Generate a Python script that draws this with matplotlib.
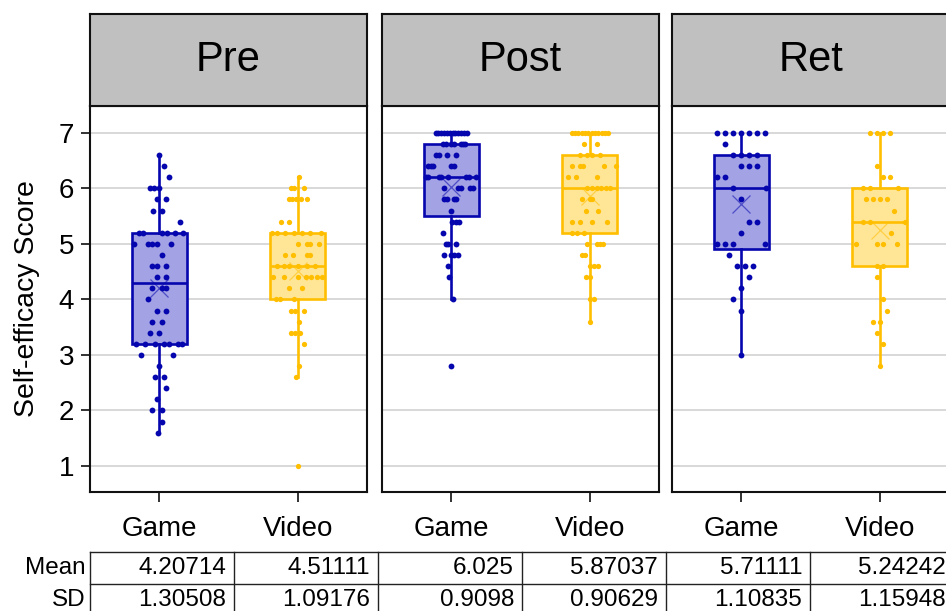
import matplotlib
matplotlib.use("Agg")
import matplotlib.pyplot as plt
import numpy as np

plt.rcParams['font.family'] = ['Liberation Sans', 'DejaVu Sans']

# ---------------- data ----------------
phases = ["Pre", "Post", "Ret"]
conditions = ["Game", "Video"]

# box summaries: [whisker low, Q1, median, Q3, whisker high]
pre_game_box = [1.6, 3.2, 4.3, 5.2, 6.6]
pre_video_box = [2.6, 4.0, 4.6, 5.2, 6.2]
post_game_box = [4.0, 5.5, 6.2, 6.8, 7.0]
post_video_box = [3.6, 5.2, 6.0, 6.6, 7.0]
ret_game_box = [3.0, 4.9, 6.0, 6.6, 7.0]
ret_video_box = [2.8, 4.6, 5.4, 6.0, 7.0]

mean_values = [4.20714, 4.51111, 6.025, 5.87037, 5.71111, 5.24242]
sd_values = [1.30508, 1.09176, 0.9098, 0.90629, 1.10835, 1.15948]

# individual scores (value) and their horizontal jitter
pre_game_vals = [6.6, 6.4, 6.2, 6.0, 6.0, 6.0, 5.8, 5.8, 5.6, 5.6, 5.4,
                 5.2, 5.2, 5.2, 5.2, 5.2, 5.2, 5.0, 5.0, 5.0, 5.0, 5.0, 4.8,
                 4.6, 4.6, 4.6, 4.4, 4.4, 4.2, 4.2, 4.2, 4.0, 3.8, 3.8,
                 3.6, 3.6, 3.4, 3.4, 3.2, 3.2, 3.2, 3.2, 3.2, 3.2, 3.2,
                 3.0, 3.0, 2.8, 2.6, 2.6, 2.4, 2.2, 2.0, 2.0, 1.8, 1.6]
pre_game_jit = [0.0, 0.034, 0.070, -0.065, -0.041, 0.0, -0.017, 0.050, -0.048, 0.019, 0.149,
                -0.149, -0.120, 0.017, 0.055, 0.115, 0.175, -0.180, -0.084, -0.050, -0.017, 0.084, 0.017,
                -0.050, -0.017, 0.050, -0.017, 0.050, -0.050, 0.017, 0.050, -0.084, -0.017, 0.050,
                -0.050, 0.017, -0.065, 0.0, -0.168, -0.101, -0.034, 0.034, 0.067, 0.132, 0.165,
                -0.132, 0.101, 0.0, -0.034, 0.034, 0.050, -0.017, -0.050, 0.017, 0.017, -0.012]

pre_video_vals = [6.2, 6.0, 6.0, 6.0, 5.8, 5.8, 5.8, 5.8, 5.8, 5.4, 5.4,
                  5.2, 5.2, 5.2, 5.2, 5.2, 5.2, 5.2, 5.0, 5.0, 5.0, 5.0,
                  4.8, 4.8, 4.8, 4.8, 4.6, 4.6, 4.6, 4.6, 4.6, 4.6,
                  4.4, 4.4, 4.4, 4.4, 4.4, 4.4, 4.4, 4.2, 4.2, 4.0, 4.0, 4.0,
                  3.8, 3.8, 3.8, 3.6, 3.4, 3.4, 3.4, 3.2, 2.8, 2.6, 1.0]
pre_video_jit = [0.012, -0.048, -0.026, 0.048, -0.065, -0.043, -0.012, 0.022, 0.065, -0.122, -0.062,
                 -0.187, -0.151, -0.091, -0.029, 0.029, 0.091, 0.168, 0.0, 0.065, 0.089, 0.156,
                 -0.094, -0.031, 0.065, 0.089, -0.151, -0.096, -0.060, 0.0, 0.065, 0.125,
                 -0.180, -0.096, 0.0, 0.060, 0.096, 0.137, 0.177, -0.060, 0.031, -0.158, -0.127, -0.026,
                 -0.048, -0.019, 0.048, 0.012, -0.048, -0.019, 0.017, 0.048, 0.012, -0.012, 0.0]

post_game_vals = [7.0] * 12 + [6.8] * 7 + [6.6] * 4 + [6.4] * 5 + [6.2] * 8 + [6.0] * 5 + \
                 [5.8] * 4 + [5.6] + [5.4] * 3 + [5.2] + [5.0] * 3 + [4.8] * 4 + [4.6, 4.4, 4.0, 2.8]
post_game_jit = [-0.113, -0.094, -0.072, -0.053, -0.031, -0.012, 0.010, 0.029, 0.050, 0.072, 0.094, 0.115,
                 -0.058, -0.041, 0.0, 0.017, 0.067, 0.084, 0.101,
                 -0.108, -0.089, -0.034, 0.034,
                 -0.165, -0.149, -0.132, 0.0, 0.017,
                 -0.185, -0.165, -0.089, -0.074, -0.024, 0.103, 0.127, 0.180,
                 -0.050, 0.050, 0.067, 0.132, 0.158,
                 -0.050, -0.034, 0.017, 0.034,
                 0.0,
                 0.007, 0.034, 0.058,
                 -0.058,
                 -0.041, -0.024, 0.034,
                 -0.050, 0.0, 0.022, 0.046,
                 -0.024, -0.017, 0.010, 0.0]

post_video_vals = [7.0] * 12 + [6.8] * 2 + [6.6] * 4 + [6.4] * 5 + [6.2] * 3 + [6.0] * 6 + \
                  [5.8] * 3 + [5.6] * 2 + [5.4] * 4 + [5.2] * 3 + [5.0] * 4 + [4.8] * 2 + \
                  [4.6] * 3 + [4.4] * 2 + [4.0] * 2 + [3.6]
post_video_jit = [-0.129, -0.106, -0.082, -0.058, -0.034, -0.010, 0.014, 0.038, 0.062, 0.086, 0.110, 0.134,
                  -0.041, 0.050,
                  -0.067, -0.017, 0.017, 0.074,
                  -0.129, -0.074, -0.050, 0.101, 0.189,
                  -0.156, -0.101, 0.050,
                  -0.017, 0.017, 0.050, 0.084, 0.115, 0.149,
                  -0.058, 0.0, 0.017,
                  -0.026, 0.058,
                  -0.129, -0.074, 0.017, 0.127,
                  -0.125, -0.091, -0.041,
                  -0.017, 0.050, 0.074, 0.098,
                  -0.058, -0.034,
                  0.0, 0.034, 0.058,
                  -0.026, 0.0,
                  0.0, 0.034,
                  0.0]

ret_game_vals = [7.0] * 7 + [6.8] + [6.6] * 4 + [6.4] * 3 + [6.2] * 2 + [6.0] * 2 + [5.8] + \
                [5.4] * 2 + [5.2] + [5.0] * 4 + [4.8] + [4.6] * 3 + [4.4, 4.2, 4.0, 3.8, 3.0]
ret_game_jit = [-0.173, -0.115, -0.058, 0.0, 0.058, 0.115, 0.173,
                -0.115,
                -0.058, 0.0, 0.058, 0.115,
                0.0, 0.058, 0.115,
                -0.173, -0.115,
                -0.058, 0.180,
                0.0,
                0.058, 0.115,
                0.0,
                -0.173, -0.115, -0.058, 0.173,
                -0.086,
                -0.029, 0.029, 0.086,
                0.058, 0.0, -0.058, 0.0, 0.0]

ret_video_vals = [7.0] * 4 + [6.4] + [6.2] * 2 + [6.0] * 3 + [5.8] * 4 + [5.6] + [5.4] * 3 + \
                 [5.2] + [5.0] * 4 + [4.6] * 2 + [4.4, 4.0, 3.8, 3.6, 3.6, 3.4, 3.2, 2.8]
ret_video_jit = [-0.074, -0.022, 0.026, 0.074,
                 -0.022,
                 0.026, 0.074,
                 -0.120, -0.070, 0.129,
                 -0.098, -0.046, 0.002, 0.050,
                 0.103,
                 -0.118, -0.070, 0.182,
                 0.079,
                 -0.170, -0.022, 0.026, 0.127,
                 -0.022, 0.026,
                 -0.022, 0.026, 0.055, -0.046, 0.002, -0.022, 0.026, 0.0]

groups = {
    "Pre": [(pre_game_box, pre_game_vals, pre_game_jit), (pre_video_box, pre_video_vals, pre_video_jit)],
    "Post": [(post_game_box, post_game_vals, post_game_jit), (post_video_box, post_video_vals, post_video_jit)],
    "Ret": [(ret_game_box, ret_game_vals, ret_game_jit), (ret_video_box, ret_video_vals, ret_video_jit)],
}

# ---------------- style ----------------
edge_cols = ["#0606ae", "#ffbf00"]
fill_cols = ["#a2a2e4", "#ffe596"]
dot_sizes = [4.2, 3.8]

W, H = 946, 611
fig = plt.figure(figsize=(W / 100, H / 100), dpi=100)

panel_left = [90, 382, 672]
panel_w = 277
plot_top, plot_bot = 105.7, 492
head_top = 14

def fx(px):
    return px / W

def fy(py):
    return 1 - py / H

for i, ph in enumerate(phases):
    ax = fig.add_axes([fx(panel_left[i]), fy(plot_bot), fx(panel_w), (plot_bot - plot_top) / H])
    hax = fig.add_axes([fx(panel_left[i]), fy(plot_top), fx(panel_w), (plot_top - head_top) / H])

    # header strip
    hax.set_facecolor("#c0c0c0")
    hax.set_xticks([])
    hax.set_yticks([])
    for s in hax.spines.values():
        s.set_linewidth(1.5)
        s.set_color("#111111")
    hax.text(0.5, 0.5, ph, ha="center", va="center", fontsize=30, transform=hax.transAxes)

    ax.set_xlim(0.5, 2.5)
    ax.set_ylim(0.53, 7.49)
    ax.set_yticks(range(1, 8))
    for yv in range(1, 8):
        ax.axhline(yv, color="#d2d2d2", lw=1.2, zorder=0)

    for j, (box, vals, jit) in enumerate(groups[ph]):
        pos = j + 1
        st = dict(whislo=box[0], q1=box[1], med=box[2], q3=box[3], whishi=box[4], fliers=[])
        bp = ax.bxp([st], positions=[pos], widths=0.4, patch_artist=True,
                    showcaps=False, showfliers=False, manage_ticks=False)
        for b in bp["boxes"]:
            b.set_facecolor(fill_cols[j])
            b.set_edgecolor(edge_cols[j])
            b.set_linewidth(1.9)
            b.set_zorder(1)
        for w in bp["whiskers"]:
            w.set_color(edge_cols[j])
            w.set_linewidth(1.9)
            w.set_zorder(1)
        for m in bp["medians"]:
            m.set_color(edge_cols[j])
            m.set_linewidth(1.9)
            m.set_zorder(2)
        ax.plot(pos + np.array(jit), vals, "o", ms=dot_sizes[j], color=edge_cols[j],
                mec="none", zorder=3, linestyle="none")
        ax.plot([pos], [mean_values[2 * i + j]], marker="x", ms=13, mew=0.9,
                color=edge_cols[j], alpha=0.55, zorder=4, linestyle="none")

    ax.set_xticks([1, 2])
    ax.set_xticklabels(conditions, fontsize=20)
    ax.tick_params(axis="x", length=7, width=1.3, pad=10, color="#222222")
    if i == 0:
        ax.tick_params(axis="y", labelsize=20, length=6.5, width=1.3, pad=5, color="#222222")
    else:
        ax.tick_params(axis="y", left=False, labelleft=False)
    for s in ax.spines.values():
        s.set_linewidth(1.5)
        s.set_color("#111111")

fig.text(fx(27), fy(299), "Self-efficacy Score", rotation=90, ha="center", va="center", fontsize=20.5)

# ---------------- table ----------------
tab = fig.add_axes([0, 0, 1, fy(540)])
tab.set_xlim(0, W)
tab.set_ylim(H, 540)
tab.axis("off")
col_w = 144
col_left = 90
row_top = [552, 584]
row_h = 32
ncol = len(mean_values)
lc = "#222222"
tab.plot([col_left, col_left + ncol * col_w], [row_top[0]] * 2, color=lc, lw=1.0)
tab.plot([col_left, col_left + ncol * col_w], [row_top[1]] * 2, color=lc, lw=1.0)
for c in range(ncol + 1):
    xx = col_left + c * col_w
    tab.plot([xx, xx], [row_top[0], row_top[1] + row_h], color=lc, lw=1.0)
for r, (lab, vals) in enumerate([("Mean", mean_values), ("SD", sd_values)]):
    yc = row_top[r] + row_h / 2
    tab.text(col_left - 4, yc, lab, ha="right", va="center", fontsize=17.5)
    for c, v in enumerate(vals):
        tab.text(col_left + (c + 1) * col_w - 8, yc, "{:g}".format(v), ha="right", va="center", fontsize=17.5)

fig.savefig("out.png", dpi=100)
